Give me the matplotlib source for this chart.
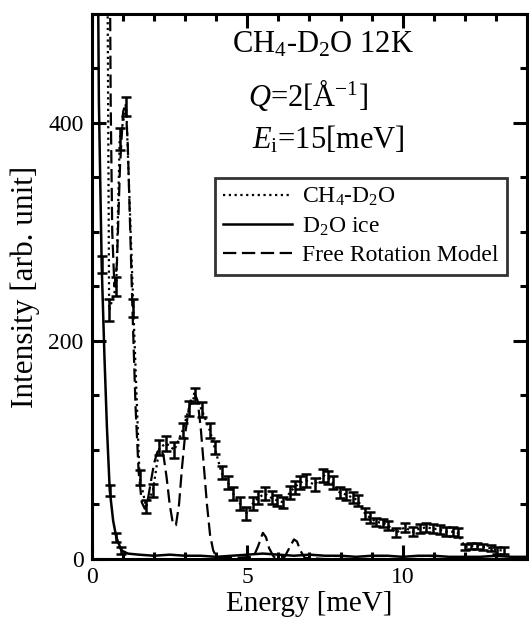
import numpy as np
import matplotlib
matplotlib.use("Agg")
import matplotlib.pyplot as plt
from matplotlib.ticker import MultipleLocator

plt.rcParams.update({
    "font.family": "Liberation Serif",
    "mathtext.fontset": "custom",
    "mathtext.rm": "Liberation Serif",
    "mathtext.it": "Liberation Serif:italic",
    "axes.linewidth": 2.2,
})

# CH4-D2O measured spectrum (points with error bars)
ch4_x = [0.30, 0.47, 0.55, 0.78, 0.89, 1.10, 1.33, 1.53, 1.74, 1.96, 2.17, 2.39, 2.65,
         2.92, 3.12, 3.31, 3.53, 3.79, 3.95, 4.17, 4.38, 4.54, 4.76, 4.97, 5.18, 5.35,
         5.56, 5.78, 5.94, 6.15, 6.37, 6.53, 6.69, 6.90, 7.17, 7.43, 7.59, 7.75, 7.97,
         8.19, 8.40, 8.56, 8.78, 8.94, 9.15, 9.36, 9.52, 9.79, 10.06, 10.33, 10.55,
         10.76, 10.97, 11.19, 11.40, 11.61, 11.77, 12.00, 12.20, 12.40, 12.60, 12.83,
         13.05, 13.27]
ch4_y = [3000, 700, 228, 250, 385, 415, 230, 75, 48, 63, 102, 106, 100,
         118, 138, 150, 137, 118, 102, 79, 70, 60, 51, 42, 51, 56,
         60, 56, 54, 52, 61, 66, 70, 72, 68, 77, 75, 70, 61,
         59, 56, 54, 42, 38, 34, 33, 31, 24, 29, 25, 28,
         29, 28, 27, 25, 25, 24, 11, 12, 12, 11, 10,
         8, 8]
ch4_err = [0, 0, 10, 9, 10, 9, 8, 7, 6, 6, 7, 7, 7,
           7, 7, 7, 7, 7, 6, 6, 6, 6, 6, 6, 6, 6,
           6, 6, 5, 5, 6, 6, 6, 6, 6, 6, 6, 6, 5,
           5, 5, 5, 5, 5, 4, 4, 4, 4, 4, 4, 4,
           4, 4, 4, 4, 4, 4, 3, 3, 3, 3, 3,
           3, 3]

# D2O ice
ice_x = [0.10, 0.22, 0.31, 0.40, 0.48, 0.57, 0.68, 0.78, 0.94, 1.15, 1.5, 2.0, 2.5, 3.0,
         3.5, 4.0, 4.5, 5.0, 5.5, 6.0, 6.5, 7.0, 7.5, 8.0, 8.5, 9.0, 9.5, 10.0, 10.5,
         11.0, 11.5, 12.0, 12.5, 13.0, 13.5, 14.0]
ice_y = [900, 420, 270, 185, 120, 63, 35, 20, 8, 5, 4, 3, 4, 3,
         3, 2, 3, 4, 5, 4, 3, 4, 3, 3, 2, 3, 3, 2, 3,
         3, 2, 2, 2, 3, 2, 2]
ice_err_x = [0.31, 0.57, 0.78, 0.94]
ice_err_y = [270, 63, 20, 8]
ice_err = [8, 5, 4, 3]

# Free rotation model
frm_x = [0.50, 0.60, 0.65, 0.72, 0.80, 0.90, 1.00, 1.08, 1.15, 1.22, 1.30, 1.40, 1.50,
         1.60, 1.70, 1.80, 1.90, 2.00, 2.10, 2.20, 2.30, 2.40, 2.50, 2.60, 2.70, 2.80,
         2.90, 3.00, 3.10, 3.20, 3.30, 3.40, 3.50, 3.60, 3.70, 3.80, 3.90, 4.00, 4.50,
         5.20, 5.35, 5.50, 5.60, 5.70, 5.85, 6.20, 6.35, 6.50, 6.60, 6.70, 6.85, 7.50,
         10.0, 14.0]
frm_y = [900, 420, 300, 250, 270, 360, 410, 418, 380, 310, 230, 140, 80,
         52, 46, 55, 72, 88, 98, 101, 95, 75, 50, 33, 31, 50,
         85, 115, 135, 148, 152, 145, 120, 85, 50, 22, 8, 2, 1,
         2, 12, 24, 20, 10, 2, 2, 10, 18, 16, 8, 1, 0,
         0, 0]

fig = plt.figure(figsize=(5.29, 6.26), dpi=100)
ax = fig.add_axes([0.174, 0.107, 0.822, 0.871])

ax.plot(ch4_x, ch4_y, ls=(0, (1, 1.6)), color="black", lw=1.6, label="CH$_4$-D$_2$O")
ax.errorbar(ch4_x[2:], ch4_y[2:], yerr=ch4_err[2:], fmt="none", ecolor="black",
            elinewidth=1.8, capsize=3.5, capthick=1.8)
ax.plot(ice_x, ice_y, "-", color="black", lw=1.8, label="D$_2$O ice")
ax.errorbar(ice_err_x, ice_err_y, yerr=ice_err, fmt="none", ecolor="black",
            elinewidth=1.8, capsize=3.5, capthick=1.8)
ax.plot(frm_x, frm_y, ls=(0, (6, 2.5)), color="black", lw=1.6, label="Free Rotation Model")

ax.set_xlim(0, 14)
ax.set_ylim(0, 500)
ax.xaxis.set_major_locator(MultipleLocator(5))
ax.xaxis.set_minor_locator(MultipleLocator(1))
ax.yaxis.set_major_locator(MultipleLocator(200))
ax.yaxis.set_minor_locator(MultipleLocator(50))
ax.tick_params(which="both", direction="in", top=True, right=True, labelsize=17,
               width=2.2, pad=6)
ax.tick_params(which="major", length=10)
ax.tick_params(which="minor", length=5)

ax.set_xlabel("Energy [meV]", fontsize=21, labelpad=2)
ax.set_ylabel("Intensity [arb. unit]", fontsize=22.5, labelpad=6)

ax.text(0.531, 0.943, "CH$_4$-D$_2$O 12K", transform=ax.transAxes, fontsize=22,
        ha="center", va="center")
ax.text(0.497, 0.851, "$Q$=2[Å$^{\\mathrm{-1}}$]", transform=ax.transAxes, fontsize=22,
        ha="center", va="center")
ax.text(0.543, 0.769, "$E_\\mathrm{i}$=15[meV]", transform=ax.transAxes, fontsize=22,
        ha="center", va="center")

leg = ax.legend(loc="upper left", bbox_to_anchor=(0.283, 0.699), fontsize=17,
                frameon=True, fancybox=False, edgecolor="black", handlelength=2.9,
                handletextpad=0.45, borderpad=0.35, labelspacing=0.3, borderaxespad=0)
leg.get_frame().set_linewidth(2)

fig.savefig("out.png", dpi=100)
